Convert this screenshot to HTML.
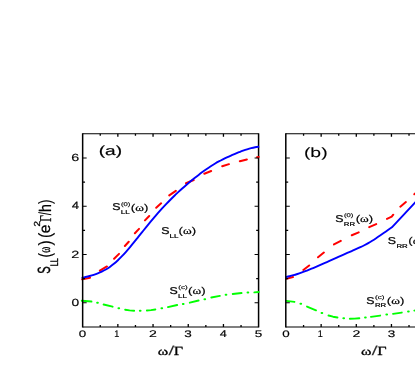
<!DOCTYPE html>
<html><head><meta charset="utf-8"><title>fig</title>
<style>html,body{margin:0;padding:0;background:#fff;overflow:hidden}svg{display:block}</style>
</head><body>
<svg width="415" height="382" viewBox="0 0 415 382">
<rect width="415" height="382" fill="#fff"/>
<g>
<rect width="415" height="382" fill="#fff"/>
<g fill="none" stroke="#000">
<path d="M258.58,133.305V327.42499999999995" stroke-width="1.5"/>
<path d="M82.65,133.83H258.58M82.65,326.9H258.58M285.8,133.83H420M285.8,326.9H420" stroke-width="1.05"/>
</g>
<g fill="none" stroke-linecap="round" stroke-linejoin="round">
<path stroke="#ff0000" stroke-width="2.0" d="M82.14,279.39L90.06,277.71M99.87,270.62L106.93,266.48M114.09,258.71L119.01,253.89M124.87,246.00L128.73,241.80M134.88,233.20L139.02,228.90M144.98,220.40L149.22,216.00M156.21,207.73L161.09,203.37M169.25,195.39L175.85,190.81M186.01,183.28L193.69,180.02M204.31,173.70L211.19,171.00M222.23,166.24L228.97,164.16M239.83,161.17L246.87,159.43M257.04,157.20L258.76,156.90M286.13,278.86L292.97,277.04M303.33,269.96L309.17,265.44M318.03,257.25L323.87,252.55M333.99,244.44L340.81,240.86M351.81,235.29L358.69,232.41M369.20,227.18L376.20,224.12M387.00,218.87L391.70,216.70L393.26,214.73M400.32,206.65L405.88,202.05M414.32,194.24L418.58,190.56"/>
<path stroke="#00ff00" stroke-width="1.9" d="M81.75,300.75L91.45,301.55M103.63,304.53L112.57,306.67M125.14,309.78L129.60,310.40L134.15,310.76M146.85,310.45L151.00,310.10L155.36,309.48M167.94,307.08L177.16,305.02M189.83,302.67L198.57,300.53M211.34,297.50L219.86,295.90M232.75,293.94L241.55,293.06M254.35,292.36L258.75,292.04M286.25,300.87L294.45,301.93M307.01,306.51L315.99,310.29M328.53,315.54L333.00,316.70L337.46,317.50M349.85,318.69L354.60,318.60L359.35,318.24M370.94,316.83L380.16,315.57M393.04,313.82L401.76,312.58M414.34,310.62L418.46,309.98"/>
<path stroke="#00ff00" stroke-width="2.0" d="M97.15,302.80h0.7M118.45,308.30h0.7M139.85,310.80h0.7M161.45,308.30h0.7M182.85,303.90h0.7M204.45,299.20h0.7M225.65,294.80h0.7M247.55,292.60h0.7M300.45,303.80h0.7M321.55,312.90h0.7M343.35,318.20h0.7M365.05,317.60h0.7M386.35,314.50h0.7M408.05,311.60h0.7"/>
<path stroke="#0000ff" stroke-width="1.9" stroke-linecap="butt" d="M81.60,277.97C82.27,277.81 84.29,277.35 85.64,277.02C86.98,276.69 88.33,276.35 89.67,275.98C91.02,275.61 92.36,275.22 93.71,274.78C95.05,274.34 96.40,273.87 97.75,273.34C99.09,272.81 100.44,272.25 101.78,271.60C103.13,270.96 104.47,270.26 105.82,269.48C107.16,268.69 108.51,267.85 109.85,266.90C111.20,265.95 112.55,264.92 113.89,263.80C115.24,262.68 116.58,261.47 117.93,260.20C119.27,258.92 120.62,257.56 121.96,256.16C123.31,254.75 124.65,253.27 126.00,251.76C127.35,250.25 128.69,248.68 130.04,247.08C131.38,245.49 132.73,243.85 134.07,242.20C135.42,240.55 136.76,238.86 138.11,237.18C139.45,235.50 140.80,233.80 142.15,232.11C143.49,230.42 144.84,228.72 146.18,227.06C147.53,225.39 148.87,223.73 150.22,222.10C151.56,220.47 152.91,218.87 154.25,217.29C155.60,215.72 156.95,214.17 158.29,212.65C159.64,211.13 160.98,209.63 162.33,208.17C163.67,206.70 165.02,205.27 166.36,203.86C167.71,202.45 169.05,201.07 170.40,199.71C171.75,198.36 173.09,197.03 174.44,195.73C175.78,194.43 177.13,193.16 178.47,191.91C179.82,190.66 181.16,189.44 182.51,188.24C183.85,187.04 185.20,185.87 186.55,184.71C187.89,183.56 189.24,182.42 190.58,181.31C191.93,180.20 193.27,179.11 194.62,178.04C195.96,176.97 197.31,175.91 198.65,174.88C200.00,173.85 201.35,172.84 202.69,171.85C204.04,170.87 205.38,169.91 206.73,168.98C208.07,168.04 209.42,167.14 210.76,166.27C212.11,165.39 213.45,164.55 214.80,163.74C216.15,162.94 217.49,162.17 218.84,161.43C220.18,160.69 221.53,159.99 222.87,159.31C224.22,158.63 225.56,157.99 226.91,157.36C228.25,156.74 229.60,156.14 230.95,155.55C232.29,154.97 233.64,154.41 234.98,153.85C236.33,153.30 237.67,152.76 239.02,152.23C240.36,151.71 241.71,151.18 243.05,150.70C244.40,150.21 245.75,149.73 247.09,149.30C248.44,148.88 249.78,148.47 251.13,148.12C252.47,147.77 253.82,147.46 255.16,147.21C256.51,146.97 258.53,146.74 259.20,146.65"/>
<path stroke="#0000ff" stroke-width="1.9" stroke-linecap="butt" d="M285.60,277.17C286.26,277.02 288.22,276.58 289.54,276.25C290.85,275.92 292.16,275.56 293.47,275.18C294.79,274.81 296.10,274.40 297.41,273.98C298.72,273.56 300.04,273.11 301.35,272.65C302.66,272.19 303.97,271.71 305.29,271.21C306.60,270.72 307.91,270.20 309.22,269.68C310.53,269.15 311.85,268.61 313.16,268.07C314.47,267.52 315.78,266.96 317.10,266.39C318.41,265.82 319.72,265.24 321.03,264.66C322.35,264.08 323.66,263.49 324.97,262.90C326.28,262.31 327.60,261.71 328.91,261.12C330.22,260.52 331.53,259.92 332.84,259.33C334.16,258.73 335.47,258.14 336.78,257.55C338.09,256.96 339.41,256.37 340.72,255.79C342.03,255.21 343.34,254.64 344.66,254.07C345.97,253.50 347.28,252.95 348.59,252.39C349.90,251.83 351.22,251.28 352.53,250.71C353.84,250.14 355.15,249.57 356.47,248.99C357.78,248.40 359.09,247.80 360.40,247.17C361.72,246.55 363.03,245.91 364.34,245.23C365.65,244.55 366.97,243.85 368.28,243.10C369.59,242.36 370.90,241.58 372.21,240.77C373.53,239.96 374.84,239.11 376.15,238.25C377.46,237.38 378.78,236.49 380.09,235.59C381.40,234.68 382.71,233.76 384.03,232.83C385.34,231.91 386.65,230.96 387.96,230.04C389.28,229.12 391.24,227.76 391.90,227.30L415.00,202.65L419.00,198.40"/>
</g>
<path d="M82.65,133.305V327.42499999999995M285.8,133.305V327.42499999999995" fill="none" stroke="#000" stroke-width="1.5"/>
<path d="M100.25,326.9v-1.8M100.25,133.83v1.8M303.57,326.9v-1.8M303.57,133.83v1.8M117.85,326.9v-2.9M117.85,133.83v2.9M321.15,326.9v-2.9M321.15,133.83v2.9M135.45,326.9v-1.8M135.45,133.83v1.8M338.73,326.9v-1.8M338.73,133.83v1.8M153.05,326.9v-2.9M153.05,133.83v2.9M356.30,326.9v-2.9M356.30,133.83v2.9M170.65,326.9v-1.8M170.65,133.83v1.8M373.88,326.9v-1.8M373.88,133.83v1.8M188.25,326.9v-2.9M188.25,133.83v2.9M391.45,326.9v-2.9M391.45,133.83v2.9M205.85,326.9v-1.8M205.85,133.83v1.8M409.02,326.9v-1.8M409.02,133.83v1.8M223.45,326.9v-2.9M223.45,133.83v2.9M241.05,326.9v-1.8M241.05,133.83v1.8" fill="none" stroke="#000" stroke-width="1.3"/>
<path d="M82.65,302.77h4.0M258.58,302.77h-4.0M285.8,302.77h4.0M82.65,278.64h2.4M258.58,278.64h-2.4M285.8,278.64h2.4M82.65,254.51h4.0M258.58,254.51h-4.0M285.8,254.51h4.0M82.65,230.38h2.4M258.58,230.38h-2.4M285.8,230.38h2.4M82.65,206.25h4.0M258.58,206.25h-4.0M285.8,206.25h4.0M82.65,182.12h2.4M258.58,182.12h-2.4M285.8,182.12h2.4M82.65,157.99h4.0M258.58,157.99h-4.0M285.8,157.99h4.0" fill="none" stroke="#000" stroke-width="1.1"/>
<g fill="#000" opacity="0.999" text-rendering="geometricPrecision">
<text transform="matrix(1.3388 0 0 0.9463 78.68 336.56)" stroke="#000" stroke-linejoin="round" stroke-width="0.175"><tspan font-family="'Liberation Sans',sans-serif" font-weight="normal" font-size="10.00">0</tspan></text>
<text transform="matrix(0.9046 0 0 0.9593 114.26 336.55)" stroke="#000" stroke-linejoin="round" stroke-width="0.215"><tspan font-family="'Liberation Sans',sans-serif" font-weight="normal" font-size="10.00">1</tspan></text>
<text transform="matrix(1.4048 0 0 0.9596 148.89 336.65)" stroke="#000" stroke-linejoin="round" stroke-width="0.169"><tspan font-family="'Liberation Sans',sans-serif" font-weight="normal" font-size="10.00">2</tspan></text>
<text transform="matrix(1.3499 0 0 0.9463 184.29 336.56)" stroke="#000" stroke-linejoin="round" stroke-width="0.174"><tspan font-family="'Liberation Sans',sans-serif" font-weight="normal" font-size="10.00">3</tspan></text>
<text transform="matrix(1.2701 0 0 0.9739 219.71 336.65)" stroke="#000" stroke-linejoin="round" stroke-width="0.178"><tspan font-family="'Liberation Sans',sans-serif" font-weight="normal" font-size="10.00">4</tspan></text>
<text transform="matrix(1.3499 0 0 0.9602 254.66 336.56)" stroke="#000" stroke-linejoin="round" stroke-width="0.173"><tspan font-family="'Liberation Sans',sans-serif" font-weight="normal" font-size="10.00">5</tspan></text>
<text transform="matrix(1.3388 0 0 0.9463 282.28 336.56)" stroke="#000" stroke-linejoin="round" stroke-width="0.175"><tspan font-family="'Liberation Sans',sans-serif" font-weight="normal" font-size="10.00">0</tspan></text>
<text transform="matrix(0.9046 0 0 0.9593 317.81 336.55)" stroke="#000" stroke-linejoin="round" stroke-width="0.215"><tspan font-family="'Liberation Sans',sans-serif" font-weight="normal" font-size="10.00">1</tspan></text>
<text transform="matrix(1.4048 0 0 0.9596 352.39 336.65)" stroke="#000" stroke-linejoin="round" stroke-width="0.169"><tspan font-family="'Liberation Sans',sans-serif" font-weight="normal" font-size="10.00">2</tspan></text>
<text transform="matrix(1.3499 0 0 0.9463 387.74 336.56)" stroke="#000" stroke-linejoin="round" stroke-width="0.174"><tspan font-family="'Liberation Sans',sans-serif" font-weight="normal" font-size="10.00">3</tspan></text>
<text transform="matrix(1.3807 0 0 1.0311 71.41 305.82)" stroke="#000" stroke-linejoin="round" stroke-width="0.166"><tspan font-family="'Liberation Sans',sans-serif" font-weight="normal" font-size="10.00">0</tspan></text>
<text transform="matrix(1.4487 0 0 1.0455 71.22 257.66)" stroke="#000" stroke-linejoin="round" stroke-width="0.160"><tspan font-family="'Liberation Sans',sans-serif" font-weight="normal" font-size="10.00">2</tspan></text>
<text transform="matrix(1.3098 0 0 1.0611 71.65 209.40)" stroke="#000" stroke-linejoin="round" stroke-width="0.169"><tspan font-family="'Liberation Sans',sans-serif" font-weight="normal" font-size="10.00">4</tspan></text>
<text transform="matrix(1.4303 0 0 1.0311 71.22 161.04)" stroke="#000" stroke-linejoin="round" stroke-width="0.163"><tspan font-family="'Liberation Sans',sans-serif" font-weight="normal" font-size="10.00">6</tspan></text>
<text transform="matrix(1.9078 0 0 1.3042 98.69 154.93)" stroke="#000" stroke-linejoin="round" stroke-width="0.156"><tspan font-family="'Liberation Sans',sans-serif" font-weight="normal" font-size="10.00">(a)</tspan></text>
<text transform="matrix(1.9378 0 0 1.3503 303.91 156.99)" stroke="#000" stroke-linejoin="round" stroke-width="0.073"><tspan font-family="'Liberation Sans',sans-serif" font-weight="normal" font-size="10.00">(b)</tspan></text>
<text transform="matrix(1.5946 0 0 1.1180 157.70 354.87)" stroke="#000" stroke-linejoin="round" stroke-width="0.258"><tspan font-family="'Liberation Serif',serif" font-weight="normal" font-size="10.00">ω</tspan></text><text fill-opacity="0.82" transform="matrix(2.2316 0 0 1.3209 168.15 355.32)"><tspan font-family="'Liberation Sans',sans-serif" font-weight="normal" font-size="10.00">/</tspan></text><text transform="matrix(1.6148 0 0 1.2447 173.86 354.68)" stroke="#000" stroke-linejoin="round" stroke-width="0.245"><tspan font-family="'Liberation Serif',serif" font-weight="normal" font-size="10.00">Γ</tspan></text>
<text transform="matrix(1.5946 0 0 1.1180 361.10 354.87)" stroke="#000" stroke-linejoin="round" stroke-width="0.258"><tspan font-family="'Liberation Serif',serif" font-weight="normal" font-size="10.00">ω</tspan></text><text fill-opacity="0.82" transform="matrix(2.2316 0 0 1.3209 371.55 355.32)"><tspan font-family="'Liberation Sans',sans-serif" font-weight="normal" font-size="10.00">/</tspan></text><text transform="matrix(1.6148 0 0 1.2447 377.26 354.68)" stroke="#000" stroke-linejoin="round" stroke-width="0.245"><tspan font-family="'Liberation Serif',serif" font-weight="normal" font-size="10.00">Γ</tspan></text>
<text transform="matrix(1.2333 0 0 0.9887 112.24 210.20)" stroke="#000" stroke-linejoin="round" stroke-width="0.270"><tspan font-family="'Liberation Sans',sans-serif" font-weight="normal" font-size="10.00">S</tspan></text><text transform="matrix(0.8074 0 0 0.5596 120.81 213.82)" stroke="#000" stroke-linejoin="round" stroke-width="0.366"><tspan font-family="'Liberation Sans',sans-serif" font-weight="normal" font-size="10.00">LL</tspan></text><text transform="matrix(0.7649 0 0 0.5260 120.98 205.56)" stroke="#000" stroke-linejoin="round" stroke-width="0.310"><tspan font-family="'Liberation Sans',sans-serif" font-weight="normal" font-size="10.00">(0)</tspan></text><text transform="matrix(1.3231 0 0 0.9746 130.74 210.62)" stroke="#000" stroke-linejoin="round" stroke-width="0.191"><tspan font-family="'Liberation Sans',sans-serif" font-weight="normal" font-size="10.00">(</tspan><tspan font-family="'Liberation Serif',serif" font-weight="normal" font-size="10.00">ω</tspan><tspan font-family="'Liberation Sans',sans-serif" font-weight="normal" font-size="10.00">)</tspan></text>
<text transform="matrix(1.2333 0 0 0.9887 161.34 234.00)" stroke="#000" stroke-linejoin="round" stroke-width="0.270"><tspan font-family="'Liberation Sans',sans-serif" font-weight="normal" font-size="10.00">S</tspan></text><text transform="matrix(0.8074 0 0 0.5596 169.61 237.62)" stroke="#000" stroke-linejoin="round" stroke-width="0.366"><tspan font-family="'Liberation Sans',sans-serif" font-weight="normal" font-size="10.00">LL</tspan></text><text transform="matrix(1.3231 0 0 0.9746 178.54 234.42)" stroke="#000" stroke-linejoin="round" stroke-width="0.191"><tspan font-family="'Liberation Sans',sans-serif" font-weight="normal" font-size="10.00">(</tspan><tspan font-family="'Liberation Serif',serif" font-weight="normal" font-size="10.00">ω</tspan><tspan font-family="'Liberation Sans',sans-serif" font-weight="normal" font-size="10.00">)</tspan></text>
<text transform="matrix(1.2333 0 0 0.9887 169.54 294.00)" stroke="#000" stroke-linejoin="round" stroke-width="0.270"><tspan font-family="'Liberation Sans',sans-serif" font-weight="normal" font-size="10.00">S</tspan></text><text transform="matrix(0.8074 0 0 0.5596 178.11 297.63)" stroke="#000" stroke-linejoin="round" stroke-width="0.366"><tspan font-family="'Liberation Sans',sans-serif" font-weight="normal" font-size="10.00">LL</tspan></text><text transform="matrix(0.8061 0 0 0.5260 178.25 289.36)" stroke="#000" stroke-linejoin="round" stroke-width="0.300"><tspan font-family="'Liberation Sans',sans-serif" font-weight="normal" font-size="10.00">(c)</tspan></text><text transform="matrix(1.3231 0 0 0.9746 188.04 294.42)" stroke="#000" stroke-linejoin="round" stroke-width="0.191"><tspan font-family="'Liberation Sans',sans-serif" font-weight="normal" font-size="10.00">(</tspan><tspan font-family="'Liberation Serif',serif" font-weight="normal" font-size="10.00">ω</tspan><tspan font-family="'Liberation Sans',sans-serif" font-weight="normal" font-size="10.00">)</tspan></text>
<text transform="matrix(1.2333 0 0 0.9887 335.14 221.90)" stroke="#000" stroke-linejoin="round" stroke-width="0.270"><tspan font-family="'Liberation Sans',sans-serif" font-weight="normal" font-size="10.00">S</tspan></text><text transform="matrix(0.7865 0 0 0.5596 343.73 225.52)" stroke="#000" stroke-linejoin="round" stroke-width="0.371"><tspan font-family="'Liberation Sans',sans-serif" font-weight="normal" font-size="10.00">RR</tspan></text><text transform="matrix(0.7649 0 0 0.5260 343.88 217.26)" stroke="#000" stroke-linejoin="round" stroke-width="0.310"><tspan font-family="'Liberation Sans',sans-serif" font-weight="normal" font-size="10.00">(0)</tspan></text><text transform="matrix(1.3231 0 0 0.9746 355.64 222.32)" stroke="#000" stroke-linejoin="round" stroke-width="0.191"><tspan font-family="'Liberation Sans',sans-serif" font-weight="normal" font-size="10.00">(</tspan><tspan font-family="'Liberation Serif',serif" font-weight="normal" font-size="10.00">ω</tspan><tspan font-family="'Liberation Sans',sans-serif" font-weight="normal" font-size="10.00">)</tspan></text>
<text transform="matrix(1.2333 0 0 0.9887 387.84 244.00)" stroke="#000" stroke-linejoin="round" stroke-width="0.270"><tspan font-family="'Liberation Sans',sans-serif" font-weight="normal" font-size="10.00">S</tspan></text><text transform="matrix(0.7865 0 0 0.5596 396.43 247.62)" stroke="#000" stroke-linejoin="round" stroke-width="0.371"><tspan font-family="'Liberation Sans',sans-serif" font-weight="normal" font-size="10.00">RR</tspan></text><text transform="matrix(1.3231 0 0 0.9746 408.34 244.42)" stroke="#000" stroke-linejoin="round" stroke-width="0.191"><tspan font-family="'Liberation Sans',sans-serif" font-weight="normal" font-size="10.00">(</tspan><tspan font-family="'Liberation Serif',serif" font-weight="normal" font-size="10.00">ω</tspan><tspan font-family="'Liberation Sans',sans-serif" font-weight="normal" font-size="10.00">)</tspan></text>
<text transform="matrix(1.2333 0 0 0.9887 366.34 303.60)" stroke="#000" stroke-linejoin="round" stroke-width="0.270"><tspan font-family="'Liberation Sans',sans-serif" font-weight="normal" font-size="10.00">S</tspan></text><text transform="matrix(0.7865 0 0 0.5596 374.93 307.23)" stroke="#000" stroke-linejoin="round" stroke-width="0.371"><tspan font-family="'Liberation Sans',sans-serif" font-weight="normal" font-size="10.00">RR</tspan></text><text transform="matrix(0.8061 0 0 0.5260 375.05 298.96)" stroke="#000" stroke-linejoin="round" stroke-width="0.300"><tspan font-family="'Liberation Sans',sans-serif" font-weight="normal" font-size="10.00">(c)</tspan></text><text transform="matrix(1.3231 0 0 0.9746 386.84 304.02)" stroke="#000" stroke-linejoin="round" stroke-width="0.191"><tspan font-family="'Liberation Sans',sans-serif" font-weight="normal" font-size="10.00">(</tspan><tspan font-family="'Liberation Serif',serif" font-weight="normal" font-size="10.00">ω</tspan><tspan font-family="'Liberation Sans',sans-serif" font-weight="normal" font-size="10.00">)</tspan></text>
<g transform="translate(0,273.6) rotate(-90)">
<text transform="matrix(1.1117 0 0 1.7655 -0.20 50.33)" stroke="#000" stroke-linejoin="round" stroke-width="0.209"><tspan font-family="'Liberation Sans',sans-serif" font-weight="normal" font-size="10.00">S</tspan></text>
<text transform="matrix(0.7321 0 0 1.1047 7.40 57.70)" stroke="#000" stroke-linejoin="round" stroke-width="0.327"><tspan font-family="'Liberation Sans',sans-serif" font-weight="normal" font-size="10.00">LL</tspan></text>
<text transform="matrix(1.3880 0 0 1.7797 16.15 50.81)" stroke="#000" stroke-linejoin="round" stroke-width="0.076"><tspan font-family="'Liberation Sans',sans-serif" font-weight="normal" font-size="10.00">(</tspan></text>
<text transform="matrix(0.9137 0 0 1.6718 20.94 50.34)" stroke="#000" stroke-linejoin="round" stroke-width="0.232"><tspan font-family="'Liberation Serif',serif" font-weight="normal" font-size="10.00">ω</tspan></text>
<text transform="matrix(1.5388 0 0 1.7797 28.02 50.81)" stroke="#000" stroke-linejoin="round" stroke-width="0.072"><tspan font-family="'Liberation Sans',sans-serif" font-weight="normal" font-size="10.00">)</tspan></text>
<text transform="matrix(1.5765 0 0 1.7797 35.53 50.81)" stroke="#000" stroke-linejoin="round" stroke-width="0.072"><tspan font-family="'Liberation Sans',sans-serif" font-weight="normal" font-size="10.00">(</tspan></text>
<text transform="matrix(1.5557 0 0 1.5515 40.34 50.45)" stroke="#000" stroke-linejoin="round" stroke-width="0.193"><tspan font-family="'Liberation Sans',sans-serif" font-weight="normal" font-size="10.00">e</tspan></text>
<text transform="matrix(0.9878 0 0 0.8736 47.20 39.70)" stroke="#000" stroke-linejoin="round" stroke-width="0.322"><tspan font-family="'Liberation Sans',sans-serif" font-weight="normal" font-size="10.00">2</tspan></text>
<text transform="matrix(1.1410 0 0 1.6494 51.87 50.70)" stroke="#000" stroke-linejoin="round" stroke-width="0.215"><tspan font-family="'Liberation Serif',serif" font-weight="normal" font-size="10.00">Γ</tspan></text>
<text transform="matrix(1.1698 0 0 1.7498 58.47 50.85)" stroke="#000" stroke-linejoin="round" stroke-width="0.034"><tspan font-family="'Liberation Sans',sans-serif" font-weight="normal" font-size="10.00">/</tspan></text>
<text transform="matrix(1.4104 0 0 1.6768 61.60 50.73)" stroke="#000" stroke-linejoin="round" stroke-width="0.162"><tspan font-family="'Liberation Sans',sans-serif" font-weight="normal" font-size="10.00">h</tspan></text>
<text transform="matrix(1.3578 0 0 1.7818 69.72 51.01)" stroke="#000" stroke-linejoin="round" stroke-width="0.064"><tspan font-family="'Liberation Sans',sans-serif" font-weight="normal" font-size="10.00">)</tspan></text>
</g>
</g>
</g>
</svg>
</body></html>
